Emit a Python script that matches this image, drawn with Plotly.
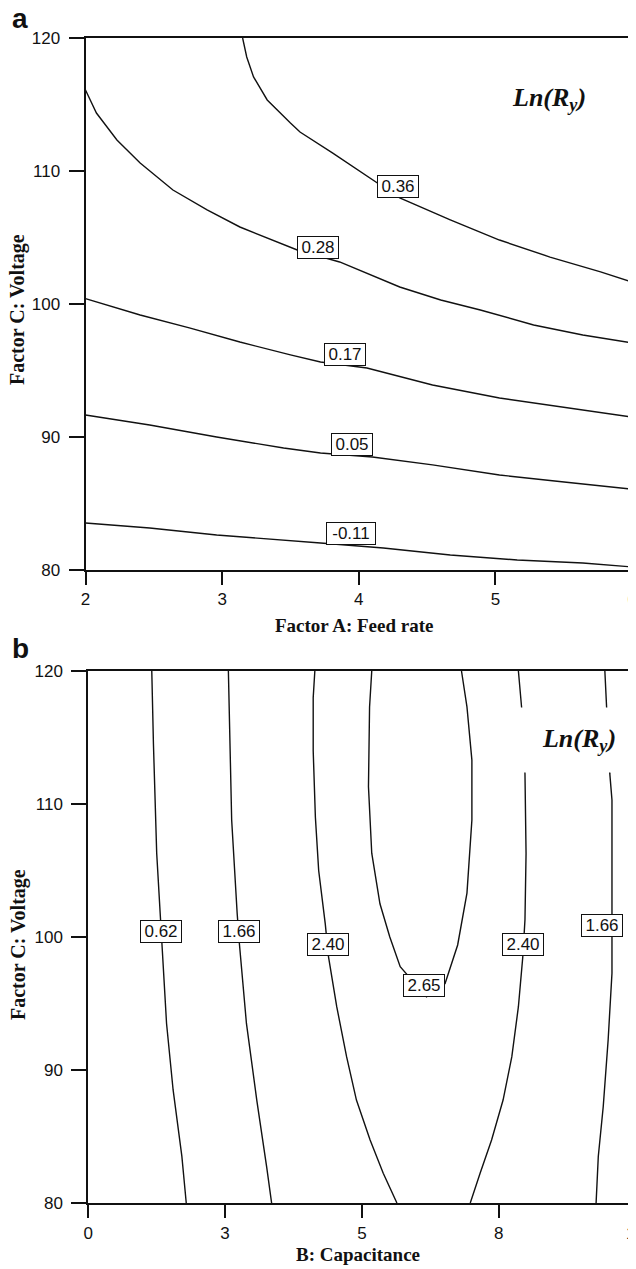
import plotly.graph_objects as go

# The page body has an 8px margin, so the figure is 8px smaller than the window
# and all pixel positions below are given in window pixels and shifted by 8.
OFF = 8
W, H = 636 - OFF, 1269 - OFF

# ---------------- Panel a: Ln(Ry) vs Feed rate (A) and Voltage (C) ----------------
a_xticks = [2, 3, 4, 5, 6]
a_yticks = [80, 90, 100, 110, 120]

a_036_x = [3.15, 3.18, 3.23, 3.33, 3.50, 3.57, 3.81, 4.13, 4.30, 4.67, 5.03, 5.40, 5.77, 6.0]
a_036_y = [120, 118.57, 117.07, 115.34, 113.61, 112.93, 111.35, 109.17, 107.97, 106.32, 104.81, 103.53, 102.41, 101.65]

a_028_x = [2.0, 2.08, 2.23, 2.40, 2.64, 2.89, 3.13, 3.37, 3.55, 3.86, 4.30, 4.60, 4.89, 5.28, 5.64, 6.0]
a_028_y = [116.09, 114.36, 112.33, 110.60, 108.57, 107.07, 105.79, 104.81, 104.06, 103.16, 101.28, 100.30, 99.55, 98.42, 97.67, 97.07]

a_017_x = [2.0, 2.40, 2.76, 3.13, 3.50, 3.72, 4.06, 4.54, 5.03, 5.52, 6.0]
a_017_y = [100.4, 99.17, 98.2, 97.14, 96.17, 95.64, 95.19, 93.91, 92.93, 92.18, 91.5]

a_005_x = [2.0, 2.47, 2.96, 3.45, 3.72, 4.10, 4.54, 5.03, 5.52, 6.0]
a_005_y = [91.65, 90.9, 90.0, 89.17, 88.8, 88.5, 87.9, 87.14, 86.6, 86.08]

a_m011_x = [2.0, 2.47, 2.96, 3.45, 3.72, 4.18, 4.67, 5.16, 5.64, 6.0]
a_m011_y = [83.53, 83.16, 82.63, 82.26, 82.03, 81.65, 81.13, 80.75, 80.53, 80.23]

a_label_text = ["0.36", "0.28", "0.17", "0.05", "-0.11"]
a_label_x = [4.29, 3.70, 3.90, 3.95, 3.94]
a_label_y = [108.87, 104.27, 96.24, 89.47, 82.71]

# ---------------- Panel b: Ln(Ry) vs Capacitance (B) and Voltage (C) ----------------
b_xticks = [0, 2.5, 5, 7.5, 10]
b_xticktext = ["0", "3", "5", "8", "10"]
b_yticks = [80, 90, 100, 110, 120]

b_062_x = [1.16, 1.19, 1.25, 1.31, 1.34, 1.43, 1.55, 1.71, 1.79]
b_062_y = [120, 114.56, 106.3, 101.8, 99.55, 93.5, 88.5, 83.5, 80]

b_166L_x = [2.56, 2.58, 2.62, 2.72, 2.76, 2.89, 3.08, 3.26, 3.35]
b_166L_y = [120, 115.8, 108.8, 101.8, 99.55, 93.5, 87.7, 82.7, 80]

b_240L_x = [4.14, 4.11, 4.11, 4.15, 4.21, 4.33, 4.39, 4.54, 4.72, 4.90, 5.15, 5.39, 5.64]
b_240L_y = [120, 118.0, 114.0, 109.0, 105.0, 101.0, 98.5, 94.76, 91.0, 87.74, 84.74, 82.23, 80]

b_265_x = [5.18, 5.14, 5.12, 5.18, 5.33, 5.51, 5.70, 6.18, 6.52, 6.75, 6.92, 7.01, 7.01, 6.92, 6.82]
b_265_y = [120, 117.3, 111.3, 106.3, 102.5, 100.0, 97.77, 95.5, 96.5, 99.4, 103.3, 108.8, 113.3, 117.3, 120]

b_240R_x = [7.86, 7.92, 7.98, 8.00, 7.98, 7.94, 7.86, 7.74, 7.58, 7.37, 7.16, 6.98]
b_240R_y = [120, 117.2, 112.3, 106.3, 101.3, 98.5, 94.76, 91.0, 87.74, 84.74, 82.23, 80]

b_166R_x = [9.44, 9.47, 9.53, 9.57, 9.57, 9.57, 9.57, 9.50, 9.41, 9.32, 9.28]
b_166R_y = [120, 117.2, 112.3, 110.3, 101.8, 99.77, 97.27, 92.26, 87.24, 83.5, 80]

b_label_text = ["0.62", "1.66", "2.40", "2.65", "2.40", "1.66"]
b_label_x = [1.33, 2.75, 4.38, 6.13, 7.94, 9.38]
b_label_y = [100.45, 100.45, 99.47, 96.39, 99.47, 100.86]

# ---------------- figure ----------------
LINE = dict(color="#111111", width=1.4)
fig = go.Figure()

for xs, ys in [(a_036_x, a_036_y), (a_028_x, a_028_y), (a_017_x, a_017_y),
               (a_005_x, a_005_y), (a_m011_x, a_m011_y)]:
    fig.add_trace(go.Scatter(x=xs, y=ys, mode="lines", line=LINE,
                             xaxis="x", yaxis="y", hoverinfo="skip"))

for xs, ys in [(b_062_x, b_062_y), (b_166L_x, b_166L_y), (b_240L_x, b_240L_y),
               (b_265_x, b_265_y), (b_240R_x, b_240R_y), (b_166R_x, b_166R_y)]:
    fig.add_trace(go.Scatter(x=xs, y=ys, mode="lines", line=LINE,
                             xaxis="x2", yaxis="y2", hoverinfo="skip"))


def px_x(p):
    return (p - OFF) / W


def px_y(p):
    return 1 - (p - OFF) / H


TICKFONT = dict(family="Liberation Sans", size=17, color="#111111")
axis_common = dict(showgrid=False, zeroline=False, showline=True, linecolor="#111111",
                   linewidth=2, mirror=True, ticks="outside", tickcolor="#111111",
                   tickwidth=1.5, tickfont=TICKFONT, fixedrange=True,
                   automargin=False, ticklabeloverflow="allow")

fig.update_layout(
    width=W, height=H,
    margin=dict(l=0, r=0, t=0, b=0, pad=0, autoexpand=False),
    paper_bgcolor="white", plot_bgcolor="white",
    showlegend=False,
    xaxis=dict(domain=[px_x(85.5), px_x(632)], range=[2, 6], tickvals=a_xticks,
               anchor="y", ticklen=13, ticklabelstandoff=0, **axis_common),
    yaxis=dict(domain=[px_y(570), px_y(38)], range=[80, 120], tickvals=a_yticks,
               anchor="x", ticklen=15, ticklabelstandoff=5, **axis_common),
    xaxis2=dict(domain=[px_x(88.3), px_x(635.5)], range=[0, 10], tickvals=b_xticks,
                ticktext=b_xticktext, anchor="y2", ticklen=13, ticklabelstandoff=1,
                **axis_common),
    yaxis2=dict(domain=[px_y(1203), px_y(671)], range=[80, 120], tickvals=b_yticks,
                anchor="x2", ticklen=15, ticklabelstandoff=5, **axis_common),
)

ann = []
LABELFONT = dict(family="Liberation Sans", size=17, color="#111111")


def box_label(t, x, y, xr, yr):
    return dict(text=t, x=x, y=y, xref=xr, yref=yr, showarrow=False,
                bgcolor="white", bordercolor="#111111", borderwidth=1, borderpad=1,
                width=38 if len(t) <= 4 else 46, height=19, font=LABELFONT,
                xanchor="center", yanchor="middle")


for t, x, y in zip(a_label_text, a_label_x, a_label_y):
    ann.append(box_label(t, x, y, "x", "y"))
for t, x, y in zip(b_label_text, b_label_x, b_label_y):
    ann.append(box_label(t, x, y, "x2", "y2"))

TITLEFONT = dict(family="Liberation Serif", size=19, color="#111111")
YTITLEFONT = dict(family="Liberation Serif", size=20, color="#111111")
ann += [
    dict(text="<b>Factor A: Feed rate</b>", x=px_x(354), y=px_y(625), xref="paper", yref="paper",
         showarrow=False, font=TITLEFONT, xanchor="center", yanchor="middle"),
    dict(text="<b>B: Capacitance</b>", x=px_x(358), y=px_y(1254), xref="paper", yref="paper",
         showarrow=False, font=TITLEFONT, xanchor="center", yanchor="middle"),
    dict(text="<b>Factor C: Voltage</b>", x=px_x(17), y=px_y(310), xref="paper", yref="paper",
         showarrow=False, font=YTITLEFONT, textangle=-90, xanchor="center", yanchor="middle"),
    dict(text="<b>Factor C: Voltage</b>", x=px_x(18), y=px_y(945), xref="paper", yref="paper",
         showarrow=False, font=YTITLEFONT, textangle=-90, xanchor="center", yanchor="middle"),
    dict(text="<b>a</b>", x=px_x(20), y=px_y(19), xref="paper", yref="paper",
         showarrow=False, font=dict(family="Liberation Sans", size=28, color="#111111"),
         xanchor="center", yanchor="middle"),
    dict(text="<b>b</b>", x=px_x(20), y=px_y(648), xref="paper", yref="paper",
         showarrow=False, font=dict(family="Liberation Sans", size=28, color="#111111"),
         xanchor="center", yanchor="middle"),
    dict(text="<b><i>Ln(R<sub>y</sub>)</i></b>", x=px_x(549), y=px_y(99), xref="paper", yref="paper",
         showarrow=False, font=dict(family="Liberation Serif", size=26, color="#111111"),
         xanchor="center", yanchor="middle"),
    dict(text="<b><i>Ln(R<sub>y</sub>)</i></b>", x=px_x(579), y=px_y(740), xref="paper", yref="paper",
         showarrow=False, font=dict(family="Liberation Serif", size=26, color="#111111"),
         bgcolor="white", width=130, height=62, xanchor="center", yanchor="middle"),
]
fig.update_layout(annotations=ann)

fig.write_html("out.html")
